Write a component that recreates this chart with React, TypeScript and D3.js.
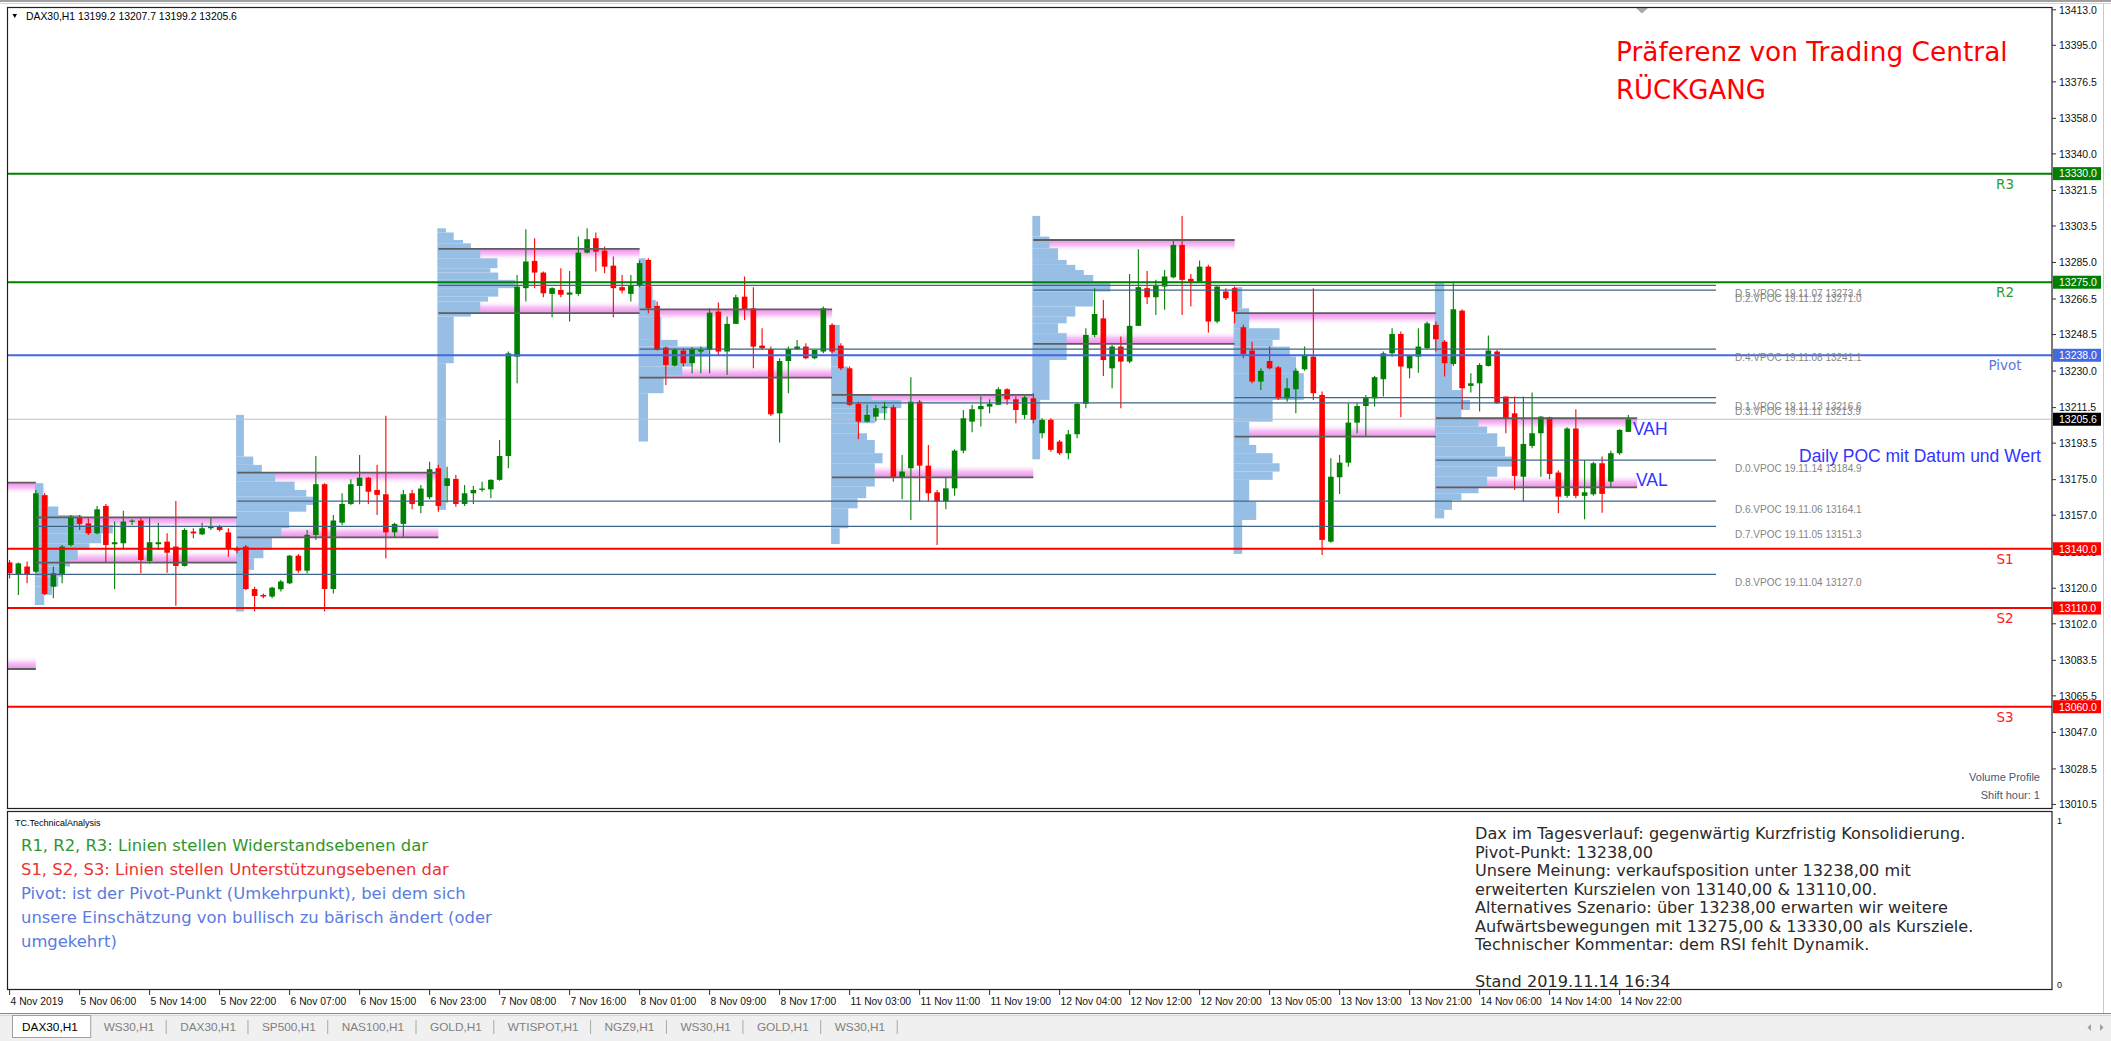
import React from 'react';
import * as d3 from 'd3';

// ---------------- DATA ----------------
// hourly candles [open, high, low, close], grouped by trading day
const barsNov04 = [
  [13133.1, 13134.3, 13125.0, 13127.6], [13127.2, 13133.0, 13116.6, 13132.6], [13131.0, 13133.5, 13122.5, 13126.7],
];
const barsNov05 = [
  [13128.4, 13169.8, 13127.9, 13168.1], [13167.1, 13168.1, 13116.6, 13117.1], [13120.8, 13131.0, 13114.9, 13127.6],
  [13126.7, 13141.9, 13122.5, 13141.1], [13141.9, 13157.1, 13141.1, 13156.3], [13155.9, 13157.1, 13149.5, 13152.6],
  [13152.9, 13155.4, 13147.0, 13147.8], [13147.8, 13161.7, 13147.3, 13160.0], [13161.7, 13162.7, 13133.0, 13141.9],
  [13142.3, 13153.8, 13119.6, 13143.3], [13142.8, 13159.2, 13140.2, 13153.8], [13153.8, 13155.0, 13152.0, 13154.3],
  [13154.3, 13155.4, 13127.6, 13134.3], [13133.8, 13155.4, 13132.6, 13143.3], [13142.3, 13153.2, 13139.4, 13143.3],
  [13143.6, 13147.8, 13127.9, 13138.0], [13141.1, 13164.2, 13111.2, 13131.3], [13131.3, 13150.4, 13131.0, 13149.5],
  [13148.7, 13150.4, 13145.3, 13147.8], [13147.3, 13153.2, 13147.0, 13150.4], [13150.4, 13155.4, 13149.5, 13151.2],
  [13151.2, 13152.1, 13148.7, 13149.5], [13148.3, 13150.4, 13136.0, 13140.2],
];
const barsNov06 = [
  [13139.9, 13141.1, 13137.7, 13139.1], [13141.1, 13141.9, 13119.1, 13119.6], [13119.6, 13120.8, 13108.2, 13116.1],
  [13116.6, 13117.4, 13114.9, 13115.8], [13115.8, 13120.8, 13114.9, 13120.3], [13119.5, 13124.2, 13118.3, 13123.4],
  [13122.5, 13136.9, 13122.2, 13136.5], [13136.5, 13137.4, 13127.9, 13128.9], [13128.9, 13149.5, 13127.6, 13147.0],
  [13147.0, 13187.0, 13144.5, 13172.7], [13172.7, 13173.2, 13108.2, 13119.6], [13119.6, 13157.1, 13117.4, 13154.3],
  [13153.2, 13168.1, 13152.1, 13162.7], [13162.7, 13175.2, 13162.2, 13172.7], [13171.8, 13187.5, 13162.5, 13176.0],
  [13176.0, 13176.5, 13162.7, 13168.9], [13169.8, 13182.5, 13157.1, 13167.3], [13167.6, 13207.4, 13135.2, 13148.3],
  [13148.3, 13153.2, 13145.8, 13152.6], [13152.6, 13169.8, 13145.8, 13167.6], [13168.1, 13169.8, 13160.0, 13162.7],
  [13161.7, 13172.3, 13158.0, 13170.5], [13166.1, 13184.1, 13165.1, 13180.3],
];
const barsNov07 = [
  [13180.8, 13182.5, 13158.8, 13161.7], [13171.8, 13181.6, 13163.4, 13175.7], [13175.4, 13177.4, 13161.3, 13162.7],
  [13162.7, 13172.3, 13161.7, 13168.1], [13168.1, 13171.8, 13162.7, 13169.8], [13169.8, 13174.0, 13168.9, 13170.5],
  [13170.1, 13175.2, 13165.6, 13174.9], [13174.9, 13195.1, 13174.5, 13187.0], [13187.0, 13239.9, 13180.8, 13239.0],
  [13237.3, 13278.7, 13223.8, 13272.8], [13272.0, 13301.8, 13265.2, 13285.5], [13285.8, 13297.3, 13272.0, 13279.9],
  [13279.9, 13280.4, 13267.4, 13269.4], [13269.1, 13272.5, 13257.3, 13272.0], [13271.1, 13282.1, 13267.4, 13268.7],
  [13268.7, 13280.7, 13255.1, 13269.8], [13269.1, 13298.1, 13268.1, 13290.0], [13290.0, 13302.3, 13289.7, 13296.8],
  [13297.3, 13300.2, 13280.4, 13290.5], [13291.0, 13293.1, 13279.6, 13282.9], [13283.4, 13288.0, 13257.3, 13272.0],
  [13272.5, 13278.7, 13269.4, 13270.8], [13269.1, 13278.7, 13265.2, 13273.1],
];
const barsNov08 = [
  [13273.6, 13286.0, 13272.5, 13284.7], [13286.3, 13287.1, 13259.3, 13261.8], [13263.0, 13265.2, 13240.4, 13240.7],
  [13241.9, 13242.4, 13223.0, 13233.1], [13232.8, 13241.6, 13232.3, 13240.7], [13240.4, 13241.6, 13232.3, 13234.0],
  [13234.0, 13242.1, 13228.9, 13241.2], [13239.9, 13242.4, 13228.9, 13240.7], [13240.7, 13261.8, 13228.9, 13259.6],
  [13260.1, 13264.7, 13238.2, 13239.9], [13239.9, 13257.6, 13228.0, 13253.9], [13253.9, 13268.6, 13253.9, 13267.4],
  [13267.7, 13277.9, 13255.9, 13261.0], [13261.8, 13272.5, 13231.4, 13242.4], [13242.9, 13251.7, 13240.7, 13241.6],
  [13241.2, 13242.4, 13207.3, 13208.1], [13208.6, 13236.5, 13193.8, 13235.1], [13235.1, 13242.4, 13218.8, 13241.2],
  [13241.2, 13245.8, 13240.7, 13242.4], [13242.4, 13244.1, 13236.0, 13236.5], [13236.5, 13240.7, 13236.0, 13240.7],
  [13239.9, 13262.7, 13239.0, 13261.8],
];
const barsNov11 = [
  [13253.4, 13254.2, 13239.0, 13239.9], [13242.9, 13244.1, 13230.6, 13231.4], [13231.4, 13232.3, 13212.3, 13212.9],
  [13213.4, 13214.5, 13195.5, 13204.4], [13204.4, 13212.9, 13203.9, 13207.8], [13206.9, 13212.9, 13204.4, 13211.2],
  [13211.2, 13214.5, 13205.3, 13212.0], [13211.7, 13212.9, 13174.0, 13176.2], [13176.2, 13187.5, 13165.1, 13179.1],
  [13180.8, 13226.9, 13154.6, 13214.5], [13214.5, 13215.4, 13163.9, 13182.1], [13182.1, 13192.6, 13163.9, 13168.1],
  [13168.6, 13169.8, 13141.9, 13163.9], [13163.9, 13176.2, 13160.0, 13170.6], [13170.6, 13190.4, 13166.8, 13189.7],
  [13189.7, 13210.3, 13188.4, 13206.1], [13204.4, 13212.9, 13199.0, 13210.7], [13210.7, 13217.1, 13201.9, 13212.3],
  [13212.0, 13215.7, 13208.6, 13213.4], [13212.9, 13221.8, 13212.9, 13220.8], [13220.8, 13221.3, 13212.9, 13215.7],
  [13215.7, 13217.1, 13203.6, 13210.3], [13207.8, 13217.4, 13205.6, 13216.7],
];
const barsNov12 = [
  [13216.2, 13218.8, 13203.6, 13205.3], [13198.5, 13206.1, 13196.0, 13205.3], [13205.3, 13206.1, 13189.2, 13190.1],
  [13194.3, 13195.1, 13187.5, 13188.4], [13188.4, 13200.2, 13185.3, 13198.0], [13198.0, 13214.0, 13196.0, 13213.4],
  [13213.4, 13251.7, 13211.2, 13248.3], [13248.3, 13272.0, 13247.1, 13258.9], [13256.7, 13266.0, 13227.5, 13235.6],
  [13231.4, 13243.2, 13221.3, 13242.4], [13242.4, 13247.5, 13211.2, 13234.8], [13234.8, 13279.2, 13234.0, 13252.9],
  [13252.9, 13291.7, 13252.9, 13272.5], [13272.0, 13280.7, 13264.0, 13267.4], [13267.4, 13276.2, 13258.4, 13273.6],
  [13272.8, 13281.2, 13261.0, 13277.9], [13277.5, 13296.8, 13277.0, 13293.9], [13293.9, 13308.6, 13258.4, 13276.2],
  [13276.7, 13279.2, 13262.7, 13275.3], [13275.3, 13286.0, 13275.3, 13282.9], [13282.9, 13283.8, 13249.5, 13255.1],
  [13255.1, 13273.6, 13254.2, 13272.8], [13270.3, 13272.0, 13266.0, 13266.9],
];
const barsNov13 = [
  [13272.0, 13272.8, 13254.2, 13260.1], [13252.2, 13253.4, 13236.5, 13238.7], [13240.4, 13244.9, 13223.8, 13224.7],
  [13224.7, 13231.4, 13220.4, 13230.1], [13235.1, 13242.4, 13230.9, 13231.4], [13231.9, 13232.6, 13215.4, 13216.2],
  [13216.2, 13226.4, 13214.5, 13221.3], [13220.8, 13231.4, 13208.6, 13230.2], [13230.9, 13242.4, 13230.2, 13238.2],
  [13237.3, 13272.0, 13215.4, 13218.8], [13217.9, 13219.6, 13136.9, 13144.5], [13143.6, 13185.8, 13143.0, 13176.5],
  [13176.2, 13187.5, 13167.8, 13183.6], [13183.6, 13213.7, 13181.6, 13203.9], [13203.9, 13214.0, 13198.5, 13212.3],
  [13212.3, 13217.9, 13197.1, 13216.7], [13216.2, 13227.5, 13212.0, 13226.9], [13225.9, 13239.9, 13217.1, 13239.0],
  [13239.0, 13251.7, 13237.3, 13248.8], [13248.8, 13250.0, 13206.6, 13232.3], [13231.4, 13238.2, 13226.4, 13237.7],
  [13237.3, 13251.7, 13229.2, 13242.4], [13241.6, 13255.1, 13241.1, 13254.2],
];
const barsNov14 = [
  [13253.4, 13255.1, 13239.9, 13246.1], [13244.9, 13245.8, 13227.2, 13234.0], [13233.6, 13274.5, 13232.6, 13261.3],
  [13260.6, 13261.3, 13210.7, 13221.3], [13222.5, 13228.9, 13219.1, 13223.8], [13223.8, 13234.0, 13209.5, 13233.1],
  [13232.6, 13248.0, 13232.3, 13240.4], [13239.9, 13240.7, 13213.4, 13213.7], [13217.1, 13217.1, 13198.5, 13206.1],
  [13208.6, 13217.1, 13169.8, 13176.9], [13176.5, 13217.1, 13163.9, 13193.1], [13192.1, 13219.1, 13190.9, 13198.5],
  [13198.5, 13207.3, 13176.5, 13206.9], [13206.6, 13206.9, 13175.2, 13177.9], [13178.6, 13179.6, 13158.0, 13166.4],
  [13166.8, 13201.5, 13165.9, 13200.9], [13200.9, 13210.7, 13165.6, 13166.8], [13166.8, 13185.0, 13154.9, 13168.6],
  [13167.6, 13184.1, 13166.8, 13183.3], [13183.3, 13186.7, 13158.3, 13167.8], [13174.0, 13189.7, 13171.1, 13188.4],
  [13188.4, 13200.5, 13187.5, 13200.2], [13199.2, 13207.7, 13199.2, 13205.6],
];

// daily volume profile: dates, first bar, value area high/low, point of control
const dayDates = ['19.11.04', '19.11.05', '19.11.06', '19.11.07', '19.11.08', '19.11.11', '19.11.12', '19.11.13', '19.11.14'];
const dayStartBar = [-20, 3, 26, 49, 72, 94, 117, 140, 163];
const dayEndBar = [3, 26, 49, 72, 94, 117, 140, 163, 186];
const dayVAH = [13173.5, 13155.9, 13178.6, 13291.9, 13261.3, 13217.9, 13296.4, 13259.3, 13206.1];
const dayVAL = [13079.1, 13133.0, 13145.8, 13259.3, 13226.7, 13176.2, 13243.8, 13196.8, 13171.1];
const dayPOC = [13127.0, 13151.3, 13164.1, 13273.4, 13241.1, 13213.9, 13271.0, 13216.6, 13184.9];

// volume histogram segments [priceTop, priceBottom, relative volume]
const profNov05 = [[13173.2, 13167.3, 11], [13167.3, 13161.4, 17], [13161.4, 13157.1, 30], [13157.1, 13152.1, 60], [13152.1, 13147.8, 100], [13147.8, 13142.8, 85], [13142.8, 13139.4, 70], [13139.4, 13134.3, 55], [13134.3, 13131.0, 45], [13131.0, 13125.9, 35], [13125.9, 13120.8, 30], [13120.8, 13116.6, 22], [13116.6, 13111.5, 12]];
const profNov06 = [[13207.8, 13186.7, 10], [13186.7, 13182.5, 22], [13182.5, 13178.6, 33], [13178.6, 13174.0, 50], [13174.0, 13169.8, 75], [13169.8, 13166.4, 90], [13166.4, 13162.2, 100], [13162.2, 13158.8, 90], [13158.8, 13150.4, 68], [13150.4, 13146.1, 58], [13146.1, 13139.4, 46], [13139.4, 13135.2, 35], [13135.2, 13129.3, 23], [13129.3, 13108.2, 10]];
const profNov07 = [[13302.3, 13300.2, 11], [13300.2, 13296.4, 21], [13296.4, 13294.7, 33], [13294.7, 13291.9, 43], [13291.9, 13287.1, 55], [13287.1, 13282.1, 77], [13282.1, 13279.9, 68], [13279.9, 13276.2, 78], [13276.2, 13272.0, 100], [13272.0, 13267.7, 78], [13267.7, 13265.2, 65], [13265.2, 13259.3, 55], [13259.3, 13257.6, 43], [13257.6, 13234.0, 21], [13234.0, 13159.7, 11]];
const profNov08 = [[13287.1, 13272.8, 9], [13272.8, 13266.0, 18], [13266.0, 13257.6, 22], [13257.6, 13245.8, 29], [13245.8, 13242.4, 50], [13242.4, 13237.3, 90], [13237.3, 13232.3, 69], [13232.3, 13228.0, 56], [13228.0, 13218.8, 32], [13218.8, 13194.3, 12]];
const profNov11 = [[13253.4, 13232.3, 11], [13232.3, 13217.9, 22], [13217.9, 13215.4, 52], [13215.4, 13211.2, 90], [13211.2, 13208.6, 72], [13208.6, 13203.6, 56], [13203.6, 13198.5, 34], [13198.5, 13195.1, 46], [13195.1, 13188.4, 56], [13188.4, 13183.3, 66], [13183.3, 13171.5, 56], [13171.5, 13165.6, 45], [13165.6, 13160.5, 34], [13160.5, 13150.4, 22], [13150.4, 13142.4, 11]];
const profNov12 = [[13308.6, 13298.1, 10], [13298.1, 13292.2, 22], [13292.2, 13286.3, 33], [13286.3, 13283.8, 44], [13283.8, 13281.2, 55], [13281.2, 13278.7, 66], [13278.7, 13275.3, 78], [13275.3, 13270.3, 100], [13270.3, 13262.7, 78], [13262.7, 13257.6, 55], [13257.6, 13254.2, 44], [13254.2, 13249.2, 33], [13249.2, 13235.6, 44], [13235.6, 13215.4, 22], [13215.4, 13185.3, 10]];
const profNov13 = [[13272.5, 13261.8, 11], [13261.8, 13251.7, 20], [13251.7, 13245.8, 59], [13245.8, 13242.4, 50], [13242.4, 13237.3, 72], [13237.3, 13228.9, 80], [13228.9, 13215.4, 90], [13215.4, 13204.4, 50], [13204.4, 13192.6, 20], [13192.6, 13188.4, 29], [13188.4, 13183.3, 50], [13183.3, 13179.1, 59], [13179.1, 13174.9, 50], [13174.9, 13163.9, 20], [13163.9, 13154.6, 29], [13154.6, 13137.4, 11]];
const profNov14 = [[13274.5, 13237.3, 12], [13237.3, 13220.4, 22], [13220.4, 13215.4, 34], [13215.4, 13210.3, 45], [13210.3, 13206.1, 34], [13206.1, 13201.9, 56], [13201.9, 13198.5, 67], [13198.5, 13191.7, 80], [13191.7, 13186.7, 90], [13186.7, 13181.6, 100], [13181.6, 13176.5, 80], [13176.5, 13171.5, 67], [13171.5, 13168.1, 56], [13168.1, 13164.7, 34], [13164.7, 13159.7, 22], [13159.7, 13155.4, 12]];

// pivot levels
const levelNames = ['R3', 'R2', 'Pivot', 'S1', 'S2', 'S3'];
const levelValues = [13330, 13275, 13238, 13140, 13110, 13060];
const lastPrice = 13205.6;
const headerQuote = ['13199.2', '13207.7', '13199.2', '13205.6'];

const priceTicks = [13413.0, 13395.0, 13376.5, 13358.0, 13340.0, 13321.5, 13303.5, 13285.0, 13266.5, 13248.5, 13230.0, 13211.5, 13193.5, 13175.0, 13157.0, 13138.5, 13120.0, 13102.0, 13083.5, 13065.5, 13047.0, 13028.5, 13010.5];
const timeLabelBars = [0, 8, 16, 24, 32, 40, 48, 56, 64, 72, 80, 88, 96, 104, 112, 120, 128, 136, 144, 152, 160, 168, 176, 184];
const timeLabels = ['4 Nov 2019', '5 Nov 06:00', '5 Nov 14:00', '5 Nov 22:00', '6 Nov 07:00', '6 Nov 15:00', '6 Nov 23:00', '7 Nov 08:00', '7 Nov 16:00', '8 Nov 01:00', '8 Nov 09:00', '8 Nov 17:00', '11 Nov 03:00', '11 Nov 11:00', '11 Nov 19:00', '12 Nov 04:00', '12 Nov 12:00', '12 Nov 20:00', '13 Nov 05:00', '13 Nov 13:00', '13 Nov 21:00', '14 Nov 06:00', '14 Nov 14:00', '14 Nov 22:00'];
const tabNames = ['DAX30,H1', 'WS30,H1', 'DAX30,H1', 'SP500,H1', 'NAS100,H1', 'GOLD,H1', 'WTISPOT,H1', 'NGZ9,H1', 'WS30,H1', 'GOLD,H1', 'WS30,H1'];

const legendLines = [
  'R1, R2, R3: Linien stellen Widerstandsebenen dar',
  'S1, S2, S3: Linien stellen Unterstützungsebenen dar',
  'Pivot: ist der Pivot-Punkt (Umkehrpunkt), bei dem sich',
  'unsere Einschätzung von bullisch zu bärisch ändert (oder',
  'umgekehrt)',
];
const commentLines = [
  'Dax im Tagesverlauf: gegenwärtig Kurzfristig Konsolidierung.',
  'Pivot-Punkt: 13238,00',
  'Unsere Meinung: verkaufsposition unter 13238,00 mit',
  'erweiterten Kurszielen von 13140,00 & 13110,00.',
  'Alternatives Szenario: über 13238,00 erwarten wir weitere',
  'Aufwärtsbewegungen mit 13275,00 & 13330,00 als Kursziele.',
  'Technischer Kommentar: dem RSI fehlt Dynamik.',
  '',
  'Stand 2019.11.14 16:34',
];

// ---------------- STYLE ----------------
const UI = "'Liberation Sans', Arial, sans-serif";
const VF = "'DejaVu Sans', Verdana, sans-serif";
const BULL = '#008000';
const BEAR = '#ff0000';
const levelColor = ['#008000', '#008000', '#4169e1', '#ff0000', '#ff0000', '#ff0000'];
const levelTextColor = ['#2f9a2f', '#2f9a2f', '#5a78e0', '#ff2020', '#ff2020', '#ff2020'];
const legendColors = ['#2f952f', '#f03030', '#5b7be0', '#5b7be0', '#5b7be0'];

function measureText(text: string, font: string): number {
  if (typeof document === 'undefined') return text.length * 7;
  const c = document.createElement('canvas').getContext('2d');
  if (!c) return text.length * 7;
  c.font = font;
  return c.measureText(text).width;
}

export default function App() {
  const bars = [...barsNov04, ...barsNov05, ...barsNov06, ...barsNov07, ...barsNov08, ...barsNov11, ...barsNov12, ...barsNov13, ...barsNov14];
  const profiles: (number[][] | null)[] = [null, profNov05, profNov06, profNov07, profNov08, profNov11, profNov12, profNov13, profNov14];

  const PL = 8, PR = 2052, PT = 7, PB = 808;
  const x = d3.scaleLinear().domain([0, 185]).range([9.6, 1628.35]);
  const y = d3.scaleLinear().domain([13008.7, 13414.4]).range([PB, PT]);
  const wv = d3.scaleLinear().domain([0, 100]).range([0, 78]);
  const bodyW = 5.6;
  const pocEnd = 1716;
  const pocLabelX = 1735;

  // tabs layout
  const tabFont = `11.8px 'Liberation Sans', Arial, sans-serif`;
  const tabs: { name: string; tx: number; sep: number; w: number }[] = [];
  let cx = 22;
  tabNames.forEach((n, i) => {
    const w = measureText(n, tabFont);
    if (i === 0) {
      const right = cx + w + 13;
      tabs.push({ name: n, tx: cx, sep: right, w });
      cx = right + 13;
    } else {
      const sep = cx + w + 12;
      tabs.push({ name: n, tx: cx, sep, w });
      cx = sep + 14;
    }
  });

  return (
    <svg width={2111} height={1041} style={{ position: 'absolute', left: 0, top: 0, display: 'block' }} xmlns="http://www.w3.org/2000/svg">
      <defs>
        <clipPath id="plot">
          <rect x={PL} y={PT} width={PR - PL} height={PB - PT} />
        </clipPath>
        <linearGradient id="gVah" x1="0" y1="0" x2="0" y2="1">
          <stop offset="0" stopColor="#ee8eec" />
          <stop offset="0.45" stopColor="#f6c0f4" />
          <stop offset="1" stopColor="#ffffff" stopOpacity="0" />
        </linearGradient>
        <linearGradient id="gVal" x1="0" y1="0" x2="0" y2="1">
          <stop offset="0" stopColor="#ffffff" stopOpacity="0" />
          <stop offset="0.55" stopColor="#f6c0f4" />
          <stop offset="1" stopColor="#ee8eec" />
        </linearGradient>
      </defs>
      <rect x={0} y={0} width={2111} height={1041} fill="#ffffff" />
      {/* window top edge */}
      <rect x={0} y={0} width={2111} height={2} fill="#a0a0a0" />
      <line x1={0} x2={2111} y1={3.5} y2={3.5} stroke="#d4d4d4" />
      <line x1={2103.5} x2={2103.5} y1={4} y2={1014} stroke="#c8c8c8" />

      {/* ---------- main chart ---------- */}
      <g clipPath="url(#plot)">
        {/* value-area bands */}
        {dayDates.map((d, i) => {
          const x0 = x(dayStartBar[i]);
          const x1 = x(dayEndBar[i]);
          return (
            <g key={'band' + d}>
              <rect x={x0} y={y(dayVAH[i])} width={x1 - x0} height={12} fill="url(#gVah)" />
              <rect x={x0} y={y(dayVAL[i]) - 13} width={x1 - x0} height={13} fill="url(#gVal)" />
            </g>
          );
        })}
        {/* volume histograms */}
        {profiles.map((p, i) => {
          if (!p) return null;
          const x0 = x(dayStartBar[i]) - 1;
          return (
            <g key={'prof' + i} fill="#97bee5">
              {p.map((s, j) => (
                <rect key={j} x={x0} y={y(s[0])} width={wv(s[2])} height={Math.max(1, y(s[1]) - y(s[0]))} />
              ))}
            </g>
          );
        })}
        {/* bid line */}
        <line x1={PL} x2={PR} y1={y(lastPrice)} y2={y(lastPrice)} stroke="#c0c0c0" strokeWidth={1} />
        {/* candles */}
        {bars.map((b, i) => {
          const [o, h, l, c] = b;
          const col = c >= o ? BULL : BEAR;
          const xc = x(i);
          const top = y(Math.max(o, c));
          const bh = Math.max(1.2, Math.abs(y(o) - y(c)));
          return (
            <g key={'c' + i}>
              <line x1={xc} x2={xc} y1={y(h)} y2={y(l)} stroke={col} strokeWidth={1.1} />
              <rect x={xc - bodyW / 2} y={top} width={bodyW} height={bh} fill={col} />
            </g>
          );
        })}
        {/* VAH / VAL lines */}
        {dayDates.map((d, i) => {
          const x0 = x(dayStartBar[i]);
          const x1 = x(dayEndBar[i]);
          return (
            <g key={'va' + d} stroke="#5e5e5e" strokeWidth={1.8}>
              <line x1={x0} x2={x1} y1={y(dayVAH[i])} y2={y(dayVAH[i])} />
              <line x1={x0} x2={x1} y1={y(dayVAL[i])} y2={y(dayVAL[i])} />
            </g>
          );
        })}
        {/* daily POC lines */}
        {dayDates.map((d, i) => (
          <line key={'poc' + d} x1={x(dayStartBar[i])} x2={pocEnd} y1={y(dayPOC[i])} y2={y(dayPOC[i])} stroke="#3f6587" strokeWidth={1.3} />
        ))}
        {/* pivot levels */}
        {levelValues.map((v, i) => (
          <line key={'lv' + i} x1={PL} x2={PR} y1={y(v)} y2={y(v)} stroke={levelColor[i]} strokeWidth={2} />
        ))}
      </g>

      {/* level names */}
      {levelValues.map((v, i) => (
        <text key={'ln' + i} x={2005} y={y(v) + 15} textAnchor="middle" fontFamily={VF} fontSize={13.5} fill={levelTextColor[i]}>{levelNames[i]}</text>
      ))}
      {/* POC labels */}
      {dayDates.map((d, i) => (
        <text key={'pl' + d} x={pocLabelX} y={y(dayPOC[i]) + 12} fontFamily={UI} fontSize={10} fill="#858585">
          {`D.${dayDates.length - 1 - i}.VPOC ${d} ${dayPOC[i].toFixed(1)}`}
        </text>
      ))}
      <text x={1799} y={462} fontFamily={UI} fontSize={17.5} fill="#3333ff">Daily POC mit Datum und Wert</text>
      <text x={1633} y={y(dayVAH[8]) + 17} fontFamily={UI} fontSize={17.5} fill="#3333ff">VAH</text>
      <text x={1636} y={y(dayVAL[8]) - 1} fontFamily={UI} fontSize={17.5} fill="#3333ff">VAL</text>

      {/* title */}
      <text x={1616} y={61} fontFamily={VF} fontSize={26.4} fill="#ff0000">Präferenz von Trading Central</text>
      <text x={1616} y={99} fontFamily={VF} fontSize={26} fill="#ff0000">RÜCKGANG</text>

      {/* header */}
      <polygon points="12.5,14 17,14 14.75,18" fill="#000" />
      <text x={26} y={20} fontFamily={UI} fontSize={10.4} fill="#000">{`DAX30,H1  ${headerQuote.join(' ')}`}</text>
      {/* shift marker */}
      <polygon points="1636,8 1648,8 1642,13.5" fill="#a8a8a8" />

      <text x={2040} y={781} textAnchor="end" fontFamily={UI} fontSize={11} fill="#3f5a78">Volume Profile</text>
      <text x={2040} y={799} textAnchor="end" fontFamily={UI} fontSize={11} fill="#3f5a78">Shift hour: 1</text>

      {/* frame of main chart */}
      <rect x={PL - 0.5} y={PT + 0.5} width={PR - PL + 0.5} height={PB - PT} fill="none" stroke="#202020" strokeWidth={1.2} />

      {/* price axis */}
      {priceTicks.map((t) => (
        <g key={'pt' + t}>
          <line x1={PR} x2={PR + 4} y1={y(t)} y2={y(t)} stroke="#333" />
          <text x={2059} y={y(t) + 3.8} fontFamily={UI} fontSize={10.5} fill="#111">{t.toFixed(1)}</text>
        </g>
      ))}
      {levelValues.map((v, i) => (
        <g key={'pb' + i}>
          <rect x={2053} y={y(v) - 6.5} width={48} height={13} fill={levelColor[i]} />
          <text x={2059} y={y(v) + 3.8} fontFamily={UI} fontSize={10.5} fill="#ffffff">{v.toFixed(1)}</text>
        </g>
      ))}
      <rect x={2053} y={y(lastPrice) - 6.5} width={48} height={13} fill="#000" />
      <text x={2059} y={y(lastPrice) + 3.8} fontFamily={UI} fontSize={10.5} fill="#ffffff">{lastPrice.toFixed(1)}</text>

      {/* ---------- indicator window ---------- */}
      <rect x={PL - 0.5} y={811.5} width={PR - PL + 0.5} height={178} fill="#ffffff" stroke="#202020" strokeWidth={1.2} />
      <text x={15} y={826} fontFamily={UI} fontSize={9} fill="#000">TC.TechnicalAnalysis</text>
      {legendLines.map((t, i) => (
        <text key={'lg' + i} x={21} y={851 + i * 24} fontFamily={VF} fontSize={16.4} fill={legendColors[i]}>{t}</text>
      ))}
      {commentLines.map((t, i) => (
        <text key={'cm' + i} x={1475} y={839 + i * 18.5} fontFamily={VF} fontSize={16.1} fill="#2a2a2a">{t}</text>
      ))}
      <text x={2057} y={824} fontFamily={UI} fontSize={9} fill="#111">1</text>
      <text x={2057} y={988} fontFamily={UI} fontSize={9} fill="#111">0</text>

      {/* ---------- time axis ---------- */}
      {timeLabelBars.map((b, i) => (
        <g key={'tl' + i}>
          <line x1={x(b)} x2={x(b)} y1={990} y2={995} stroke="#333" />
          <text x={x(b) + 1} y={1005} fontFamily={UI} fontSize={10.3} fill="#111">{timeLabels[i]}</text>
        </g>
      ))}

      {/* ---------- tab bar ---------- */}
      <rect x={0} y={1014} width={2111} height={27} fill="#f0f0f0" />
      <line x1={0} x2={2111} y1={1013.5} y2={1013.5} stroke="#8a8a8a" />
      <line x1={0} x2={2111} y1={1015.5} y2={1015.5} stroke="#d8d8d8" />
      {tabs.map((t, i) => (
        <g key={'tab' + i}>
          {i === 0 ? (
            <rect x={12.5} y={1015.5} width={t.sep - 12.5} height={22} fill="#ffffff" stroke="#a0a0a0" />
          ) : (
            <line x1={t.sep} x2={t.sep} y1={1020} y2={1034} stroke="#a8a8a8" />
          )}
          <text x={t.tx} y={1031} fontFamily={UI} fontSize={11.8} fill={i === 0 ? '#000' : '#808080'}>{t.name}</text>
        </g>
      ))}
      <polygon points="2091,1024 2091,1031 2087.5,1027.5" fill="#a0a0a0" />
      <polygon points="2100,1024 2100,1031 2103.5,1027.5" fill="#a0a0a0" />
    </svg>
  );
}
